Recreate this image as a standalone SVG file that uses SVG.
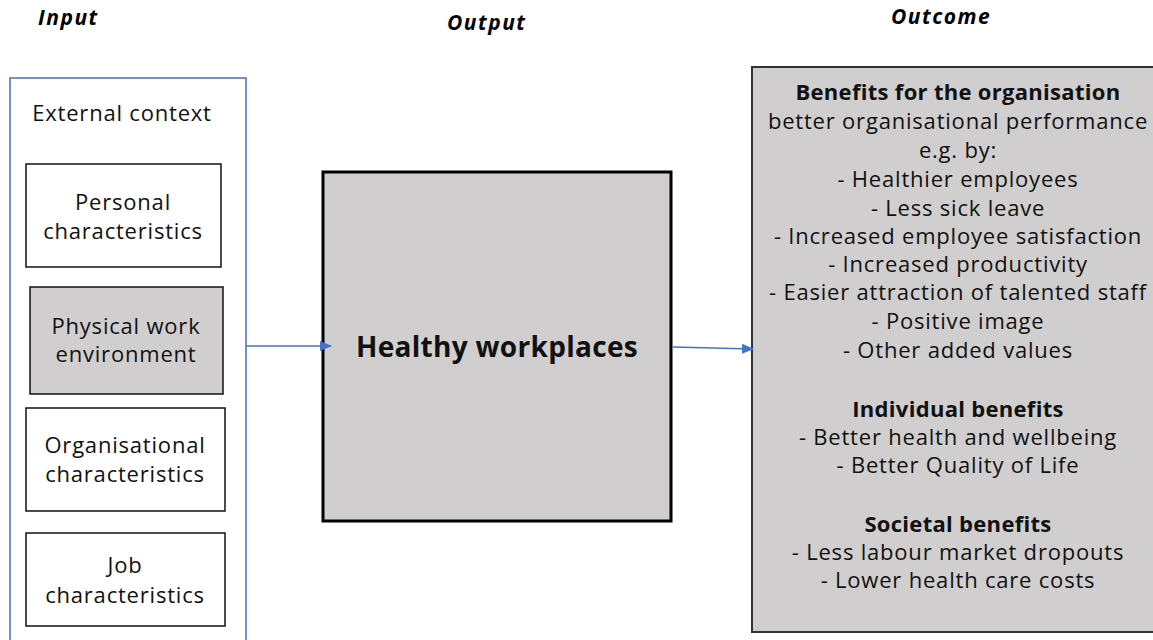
<svg xmlns="http://www.w3.org/2000/svg" width="1153" height="640" viewBox="0 0 1153 640">
<style>
  .t { font-family: "Open Sans", "Liberation Sans", sans-serif; font-size: 22px; letter-spacing: 0.8px; fill: #111; text-anchor: middle; }
  .b { font-weight: bold; letter-spacing: 0.3px; }
  .h { font-family: "Open Sans", "Liberation Sans", sans-serif; font-size: 21px; letter-spacing: 1.5px; font-weight: bold; font-style: italic; fill: #000; }
  .box { fill: #ffffff; stroke: #111; stroke-width: 1.5; }
  .gray { fill: #d0cece; }
  .conn { stroke: #4472c4; stroke-width: 1.3; fill: none; }
</style>
<defs>
  <marker id="arr" markerWidth="12" markerHeight="10" refX="11" refY="5" orient="auto" markerUnits="userSpaceOnUse">
    <path d="M0,0 L12,5 L0,10 z" fill="#4472c4"/>
  </marker>
</defs>
<rect width="1153" height="640" fill="#ffffff"/>

<g id="headings">
  <text class="h" x="38" y="25">Input</text>
  <text class="h" x="447" y="30">Output</text>
  <text class="h" x="891" y="24">Outcome</text>
</g>

<g id="input-panel">
  <rect x="10" y="78" width="236" height="600" fill="#ffffff" stroke="#4a6db0" stroke-width="1.5"/>
  <text class="t" x="122" y="121">External context</text>
</g>

<g id="personal">
  <rect class="box" x="26" y="164" width="195" height="103"/>
  <text class="t" x="123" y="210">Personal</text>
  <text class="t" x="123" y="239">characteristics</text>
</g>

<g id="physical">
  <rect class="box gray" x="30" y="287" width="193" height="107"/>
  <text class="t" x="126" y="334">Physical work</text>
  <text class="t" x="126" y="362">environment</text>
</g>

<g id="organisational">
  <rect class="box" x="26" y="408" width="199" height="103"/>
  <text class="t" x="125" y="453">Organisational</text>
  <text class="t" x="125" y="482">characteristics</text>
</g>

<g id="job">
  <rect class="box" x="26" y="533" width="199" height="93"/>
  <text class="t" x="125" y="573">Job</text>
  <text class="t" x="125" y="603">characteristics</text>
</g>

<g id="healthy-workplaces">
  <rect x="323" y="172" width="348" height="349" fill="#d0cece" stroke="#000" stroke-width="3"/>
  <text class="t b" x="497" y="357" style="font-size:28px">Healthy workplaces</text>
</g>

<g id="outcome">
  <rect x="752" y="67" width="420" height="565" fill="#d0cece" stroke="#333" stroke-width="2"/>
  <text class="t b" x="958" y="100">Benefits for the organisation</text>
  <text class="t" x="958" y="129">better organisational performance</text>
  <text class="t" x="958" y="158">e.g.  by:</text>
  <text class="t" x="958" y="187">- Healthier employees</text>
  <text class="t" x="958" y="216">- Less sick leave</text>
  <text class="t" x="958" y="244">- Increased employee satisfaction</text>
  <text class="t" x="958" y="272">- Increased productivity</text>
  <text class="t" x="958" y="300">- Easier attraction of talented staff</text>
  <text class="t" x="958" y="329">- Positive image</text>
  <text class="t" x="958" y="358">- Other added values</text>
  <text class="t b" x="958" y="417">Individual benefits</text>
  <text class="t" x="958" y="445">- Better health and wellbeing</text>
  <text class="t" x="958" y="473">- Better Quality of Life</text>
  <text class="t b" x="958" y="532">Societal benefits</text>
  <text class="t" x="958" y="560">- Less labour market dropouts</text>
  <text class="t" x="958" y="588">- Lower health care costs</text>
</g>

<g id="connectors">
  <line class="conn" x1="246" y1="346" x2="331" y2="346" marker-end="url(#arr)"/>
  <line class="conn" x1="673" y1="347" x2="753" y2="349" marker-end="url(#arr)"/>
</g>
</svg>
